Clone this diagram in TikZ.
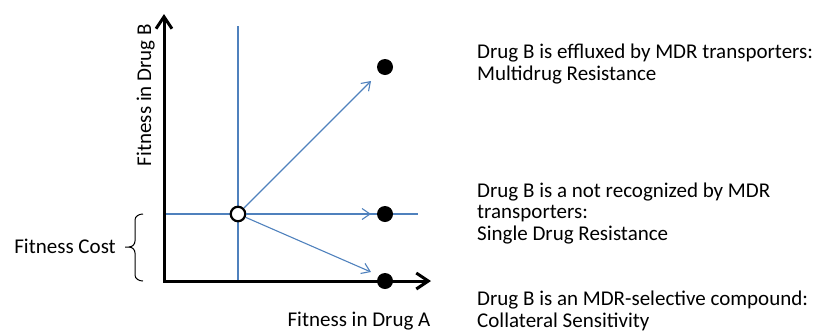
\documentclass[tikz,border=0pt]{standalone}
\usepackage{fontspec}
\setmainfont{Carlito}
\usetikzlibrary{arrows.meta}
\definecolor{lineblue}{RGB}{79,129,189}
\begin{document}
\begin{tikzpicture}[x=1pt,y=-1pt,
  axis/.style={line width=3pt, line join=miter,
    {Straight Barb[length=12pt,width=16pt]}-{Straight Barb[length=12pt,width=16pt]}},
  guide/.style={lineblue, line width=1.1pt},
  move/.style={lineblue, line width=1.1pt, -{Straight Barb[length=8pt,width=11pt]}},
  dot/.style={circle, fill=black, minimum size=16pt, inner sep=0pt},
  start/.style={circle, draw=black, fill=white, line width=2.2pt, minimum size=14.5pt, inner sep=0pt},
  lbl/.style={font=\fontsize{21}{22}\selectfont, inner sep=0pt},
  desc/.style={font=\fontsize{21}{21.5}\selectfont, inner sep=0pt, align=left, anchor=base west}]
\useasboundingbox (0,0) rectangle (817,333);
% guides
\coordinate (vt) at (238,26);
\coordinate (vb) at (238,281);
\coordinate (hl) at (164,214);
\coordinate (hr) at (418,214);
\draw[guide] (vt) -- (vb);
\draw[guide] (hl) -- (hr);
% axes
\coordinate (ytop) at (164,14);
\coordinate (orig) at (164,281);
\coordinate (xend) at (431,281);
\draw[axis] (ytop) -- (orig) -- (xend);
% points
\node[start] (c) at (238,214) {};
\node[dot] (d1) at (385,67) {};
\node[dot] (d2) at (385,214) {};
\node[dot] (d3) at (385,281) {};
\coordinate (e1) at (371,81);
\coordinate (e2) at (371,214);
\coordinate (e3) at (371,272);
\draw[move] (c) -- (e1);
\draw[move] (c) -- (e2);
\draw[move] (c) -- (e3);
% brace
\draw[line width=1pt] (143,214) to[out=180,in=90] (135,220) -- (135,241)
  to[out=-90,in=0] (129,247) -- (125,247);
\draw[line width=1pt] (129,247) to[out=0,in=90] (135,253) -- (135,275)
  to[out=-90,in=180] (143,281);
% labels
\node[lbl, anchor=base east] (fc) at (116,253) {Fitness Cost};
\node[lbl, rotate=90, anchor=base] (yl) at (151,95) {Fitness in Drug B};
\node[lbl, anchor=base] (xl) at (359,326) {Fitness in Drug A};
\node[desc] (t1) at (477,80) {Drug B is effluxed by MDR transporters:\\Multidrug Resistance};
\node[desc] (t2) at (477,240) {Drug B is a not recognized by MDR\\transporters:\\Single Drug Resistance};
\node[desc] (t3) at (477,327) {Drug B is an MDR-selective compound:\\Collateral Sensitivity};
\end{tikzpicture}
\end{document}
